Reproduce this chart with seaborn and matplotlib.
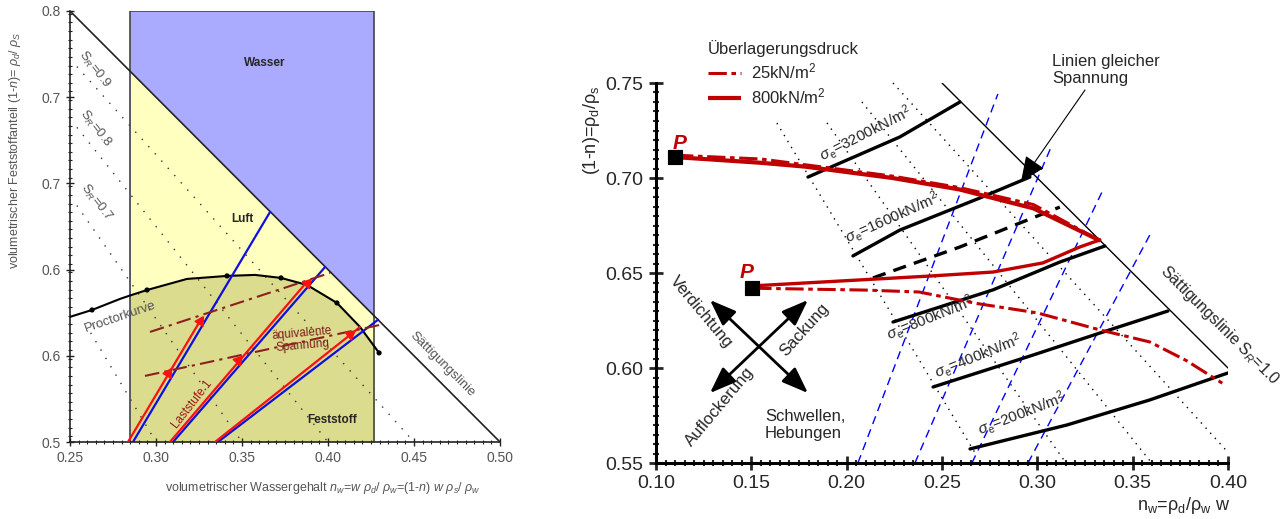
import matplotlib
matplotlib.use("Agg")

import matplotlib.pyplot as plt
import numpy as np
import seaborn as sns
from matplotlib.ticker import MultipleLocator

# ---------------- left panel data ----------------
box_x = [0.285, 0.4267]
sat_l_x = [0.25, 0.50]
sat_l_y = [0.80, 0.50]

proctor_x = [0.25, 0.2628, 0.2791, 0.285, 0.2948, 0.3180, 0.3413, 0.3576, 0.3727,
             0.3878, 0.4052, 0.4186, 0.4267, 0.4297]
proctor_y = [0.5871, 0.5919, 0.5996, 0.602, 0.6058, 0.6135, 0.6156, 0.6163, 0.6142,
             0.6093, 0.5968, 0.5801, 0.5669, 0.5620]
proctor_dot_x = [0.2628, 0.2948, 0.3413, 0.3727, 0.4052, 0.4297]
proctor_dot_y = [0.5919, 0.6058, 0.6156, 0.6142, 0.5968, 0.5620]

sr_l_labels = ["0.9", "0.8", "0.7", None]
sr_l_x0 = [0.254, 0.254, 0.254, 0.262]
sr_l_y0 = [0.7613, 0.719, 0.6646, 0.576]
sr_l_x1 = [0.45, 0.40, 0.35, 0.30]
sr_l_y1 = [0.50, 0.50, 0.50, 0.50]
sr_l_lab_x = [0.264, 0.2645, 0.2651]
sr_l_lab_y = [0.7596, 0.7179, 0.6664]

blue_x0 = [0.2866, 0.3099, 0.3360]
blue_y0 = [0.50, 0.50, 0.50]
blue_x1 = [0.3663, 0.3983, 0.4291]
blue_y1 = [0.6601, 0.6218, 0.5851]
red_x0 = [0.2837, 0.3081, 0.3343]
red_y0 = [0.50, 0.50, 0.50]
red_x1 = [0.3267, 0.3872, 0.4186]
red_y1 = [0.5864, 0.6107, 0.5800]

dd_x0 = [0.2965, 0.2936]
dd_y0 = [0.5766, 0.5460]
dd_x1 = [0.4012, 0.4302]
dd_y1 = [0.6177, 0.5815]

arrow_l_x = [0.3070, 0.3256, 0.3477, 0.3878, 0.4128]
arrow_l_y = [0.5481, 0.5843, 0.5571, 0.6107, 0.5752]
arrow_l_rot = [-31, -31, -41, -41, -52]

l_xticks = [0.25, 0.30, 0.35, 0.40, 0.45, 0.50]
l_xlabels = ["0.25", "0.30", "0.35", "0.40", "0.45", "0.50"]
l_yticks = [0.50, 0.56, 0.62, 0.68, 0.74, 0.80]
l_ylabels = ["0.5", "0.6", "0.6", "0.7", "0.7", "0.8"]

# ---------------- right panel data ----------------
sat_r_x = [0.25, 0.40]
sat_r_y = [0.75, 0.60]

up_solid_x = [0.110, 0.155, 0.178, 0.224, 0.259, 0.298, 0.333]
up_solid_y = [0.711, 0.708, 0.706, 0.700, 0.694, 0.684, 0.667]
up_dd_x = [0.110, 0.155, 0.178, 0.224, 0.259, 0.298, 0.333]
up_dd_y = [0.712, 0.710, 0.707, 0.701, 0.695, 0.686, 0.667]
lo_solid_x = [0.1503, 0.2437, 0.2767, 0.3029, 0.3223, 0.3328]
lo_solid_y = [0.6432, 0.6484, 0.6505, 0.6553, 0.6637, 0.6674]
lo_dd_x = [0.151, 0.210, 0.238, 0.268, 0.300, 0.333, 0.359, 0.378, 0.397]
lo_dd_y = [0.642, 0.641, 0.640, 0.634, 0.629, 0.620, 0.6137, 0.604, 0.592]

stress_labels = ["3200", "1600", "800", "400", "200"]
stress_x = [[0.1797, 0.2279, 0.2594],
            [0.2033, 0.2279, 0.2699, 0.2961],
            [0.2243, 0.2767, 0.3119, 0.3354],
            [0.2453, 0.2977, 0.3328, 0.3685],
            [0.2647, 0.3155, 0.3590, 0.4000]]
stress_y = [[0.7005, 0.7216, 0.7400],
            [0.6590, 0.6726, 0.6895, 0.7005],
            [0.6242, 0.6411, 0.6558, 0.6642],
            [0.5900, 0.6068, 0.6184, 0.6300],
            [0.5574, 0.5700, 0.5832, 0.5974]]
stress_lab_x = [0.2100, 0.2240, 0.2437, 0.2690, 0.2920]
stress_lab_y = [0.7235, 0.6790, 0.6263, 0.6065, 0.5760]
stress_lab_rot = [27, 24, 22, 22, 21]

dashed_x = [0.2138, 0.2594, 0.3118]
dashed_y = [0.6474, 0.6637, 0.6847]

sr_r_x0 = [0.1634, 0.1897, 0.2080, 0.2243]
sr_r_y0 = [0.7289, 0.7290, 0.7400, 0.7500]
sr_r_x1 = [0.2683, 0.3150, 0.3600, 0.4000]
sr_r_y1 = [0.5537, 0.5500, 0.5500, 0.5556]

w_x0 = [0.2059, 0.2358, 0.2657, 0.2951]
w_y0 = [0.55, 0.55, 0.55, 0.55]
w_x1 = [0.2793, 0.3077, 0.3349, 0.3601]
w_y1 = [0.7442, 0.7174, 0.6947, 0.6721]

p_x = [0.110, 0.1503]
p_y = [0.711, 0.6421]
p_lab_x = [0.1126, 0.1477]
p_lab_y = [0.7184, 0.6505]

cross_start = [(0.1283, 0.5868), (0.1797, 0.5868)]
cross_end = [(0.1797, 0.6358), (0.1283, 0.6358)]

r_xticks = [0.10, 0.15, 0.20, 0.25, 0.30, 0.35, 0.40]
r_xlabels = ["0.10", "0.15", "0.20", "0.25", "0.30", "0.35", "0.40"]
r_yticks = [0.55, 0.60, 0.65, 0.70, 0.75]
r_ylabels = ["0.55", "0.60", "0.65", "0.70", "0.75"]

RED = "#c00000"

sns.set_style("white")
plt.rcParams["font.family"] = ["Liberation Sans", "DejaVu Sans"]
plt.rcParams["mathtext.fontset"] = "custom"
plt.rcParams["mathtext.rm"] = "Liberation Sans"
plt.rcParams["mathtext.it"] = "Liberation Sans:italic"
plt.rcParams["mathtext.bf"] = "Liberation Sans:bold"

fig = plt.figure(figsize=(12.83, 5.19), dpi=100)
ax1 = fig.add_axes([70 / 1283, 1 - 442 / 519, 430 / 1283, 431 / 519])
ax2 = fig.add_axes([656 / 1283, 1 - 463 / 519, 572 / 1283, 380 / 519])

# ================= left panel =================
ax1.set_xlim(0.25, 0.50)
ax1.set_ylim(0.50, 0.80)
ax1.fill_between(box_x, 0.5, 0.8, color="#aaaaff", lw=0, zorder=0)
sat_at_box = np.interp(box_x, sat_l_x, sat_l_y)
ax1.fill_between(box_x, 0.5, sat_at_box, color="#ffffc0", lw=0, zorder=0)
px = np.array(proctor_x)
py = np.array(proctor_y)
inbox = (px >= box_x[0]) & (px <= box_x[1])
ax1.fill_between(px[inbox], 0.5, py[inbox], color="#dcdc8e", lw=0, zorder=0)
ax1.plot([box_x[0], box_x[0], box_x[1], box_x[1]], [0.5, 0.8, 0.8, 0.5],
         color="#444444", lw=1.2, zorder=2)

for i in range(len(sr_l_x0)):
    ax1.plot([sr_l_x0[i], sr_l_x1[i]], [sr_l_y0[i], sr_l_y1[i]], color="#333333",
             lw=1.0, ls=(0, (1, 6)), zorder=1)
for i in range(3):
    ax1.text(sr_l_lab_x[i], sr_l_lab_y[i], "S$_R$=" + sr_l_labels[i], fontsize=9.5,
             color="#555555", rotation=-52, ha="center", va="center")

ax1.plot(sat_l_x, sat_l_y, color="#222222", lw=1.2, zorder=3)
sns.lineplot(x=proctor_x, y=proctor_y, sort=False, color="black", lw=1.5, ax=ax1, zorder=3)
sns.scatterplot(x=proctor_dot_x, y=proctor_dot_y, color="black", s=14, ax=ax1, zorder=4,
                edgecolor="none")

for i in range(3):
    ax1.plot([blue_x0[i], blue_x1[i]], [blue_y0[i], blue_y1[i]], color="#1010dd", lw=1.6, zorder=4)
    ax1.plot([red_x0[i], red_x1[i]], [red_y0[i], red_y1[i]], color="#ff1010", lw=1.6, zorder=4)
for i in range(2):
    ax1.plot([dd_x0[i], dd_x1[i]], [dd_y0[i], dd_y1[i]], color="#8b2020", lw=1.5,
             ls=(0, (7, 2.5, 1.5, 2.5)), zorder=5)
for i in range(len(arrow_l_x)):
    ax1.plot(arrow_l_x[i], arrow_l_y[i], marker=(3, 0, arrow_l_rot[i]), ms=8,
             color="#ff1010", zorder=6)

ax1.text(0.3634, 0.7638, "Wasser", fontsize=8.5, fontweight="bold", ha="center", va="center")
ax1.text(0.350, 0.6553, "Luft", fontsize=8.5, fontweight="bold", ha="center", va="center")
ax1.text(0.4023, 0.5154, "Feststoff", fontsize=8.5, fontweight="bold", ha="center", va="center")
ax1.text(0.2791, 0.5871, "Proctorkurve", fontsize=9.5, color="#555555", rotation=19,
         ha="center", va="center")
ax1.text(0.4663, 0.5543, "Sättigungslinie", fontsize=9.5, color="#555555", rotation=-45,
         ha="center", va="center")
ax1.text(0.3849, 0.5711, "äquivalente\nSpannung", fontsize=8.5, color="#7b1c1c", rotation=5,
         ha="center", va="center", linespacing=1.0)
ax1.text(0.3209, 0.5258, "Laststufe 1", fontsize=8.5, color="#9b1b1b", rotation=52,
         ha="center", va="center")

ax1.set_xticks(l_xticks, l_xlabels)
ax1.set_yticks(l_yticks, l_ylabels)
ax1.xaxis.set_minor_locator(MultipleLocator(0.005))
ax1.yaxis.set_minor_locator(MultipleLocator(0.006))
ax1.tick_params(which="major", direction="inout", length=6, width=1, colors="#222222",
                labelcolor="#555555", labelsize=10, bottom=True, left=True)
ax1.tick_params(which="minor", direction="inout", length=3, width=0.8, colors="#222222",
                bottom=True, left=True)
for s in ["top", "right"]:
    ax1.spines[s].set_visible(False)
for s in ["left", "bottom"]:
    ax1.spines[s].set_color("#222222")
    ax1.spines[s].set_linewidth(1.2)

fig.text(15 / 1283, 1 - 150 / 519,
         r"volumetrischer Feststoffanteil $(1$-$n)$= $\rho_d$/ $\rho_S$",
         rotation=90, fontsize=9, color="#555555", ha="center", va="center")
fig.text(323 / 1283, 1 - 488 / 519,
         r"volumetrischer Wassergehalt $n_w$=$w$ $\rho_d$/ $\rho_w$=$(1$-$n)$ $w$ $\rho_s$/ $\rho_w$",
         fontsize=9, color="#555555", ha="center", va="center")

# ================= right panel =================
ax2.set_xlim(0.10, 0.40)
ax2.set_ylim(0.55, 0.75)

for i in range(len(sr_r_x0)):
    ax2.plot([sr_r_x0[i], sr_r_x1[i]], [sr_r_y0[i], sr_r_y1[i]], color="black", lw=1.0,
             ls=(0, (1, 4)), zorder=1, clip_on=False)
for i in range(len(w_x0)):
    ax2.plot([w_x0[i], w_x1[i]], [w_y0[i], w_y1[i]], color="#0000ff", lw=1.0,
             ls=(0, (6, 4)), zorder=1)
ax2.plot(sat_r_x, sat_r_y, color="black", lw=1.0, zorder=2)

for i in range(len(stress_x)):
    sns.lineplot(x=stress_x[i], y=stress_y[i], sort=False, color="black", lw=2.4, ax=ax2,
                 zorder=3)
    ax2.text(stress_lab_x[i], stress_lab_y[i],
             r"$\sigma_\mathrm{e}$=" + stress_labels[i] + "kN/m$^2$", fontsize=11,
             rotation=stress_lab_rot[i], ha="center", va="center", rotation_mode="anchor",
             zorder=4)
ax2.plot(dashed_x, dashed_y, color="black", lw=2.4, ls=(0, (4, 2.5)), zorder=3)

h_solid, = ax2.plot(up_solid_x, up_solid_y, color=RED, lw=3.0, zorder=5,
                    solid_capstyle="butt")
ax2.plot(lo_solid_x, lo_solid_y, color=RED, lw=2.4, zorder=5)
h_dd, = ax2.plot(up_dd_x, up_dd_y, color=RED, lw=2.2, ls=(0, (6, 1.5, 1.5, 1.5)), zorder=6)
ax2.plot(lo_dd_x, lo_dd_y, color=RED, lw=2.2, ls=(0, (6, 1.5, 1.5, 1.5)), zorder=6)

sns.scatterplot(x=p_x, y=p_y, marker="s", s=110, color="black", edgecolor="black", ax=ax2,
                zorder=7)
for i in range(2):
    ax2.text(p_lab_x[i], p_lab_y[i], "P", fontsize=15, color=RED, fontweight="bold",
             fontstyle="italic", ha="center", va="center")

for (x0, y0), (x1, y1) in zip(cross_start, cross_end):
    ax2.annotate("", xy=(x1, y1), xytext=(x0, y0),
                 arrowprops=dict(arrowstyle="<|-|>,head_length=0.8,head_width=0.3",
                                 lw=2, color="black", mutation_scale=20,
                                 shrinkA=0, shrinkB=0))
ax2.text(0.1236, 0.6295, "Verdichtung", fontsize=12, rotation=-50, ha="center", va="center")
ax2.text(0.1781, 0.6200, "Sackung", fontsize=12, rotation=48, ha="center", va="center")
ax2.text(0.1336, 0.5795, "Auflockerung", fontsize=12, rotation=50, ha="center", va="center")
ax2.text(0.1572, 0.5700, "Schwellen,\nHebungen", fontsize=12, ha="left", va="center",
         linespacing=1.15)
ax2.text(0.3958, 0.6226, "Sättigungslinie S$_R$=1.0", fontsize=11.5, rotation=-45,
         ha="center", va="center")
ax2.text(0.3077, 0.7568, "Linien gleicher\nSpannung", fontsize=12, ha="left", va="center",
         linespacing=1.15)
ax2.annotate("", xy=(0.2914, 0.6979), xytext=(0.3250, 0.7463),
             arrowprops=dict(arrowstyle="-|>,head_length=0.8,head_width=0.35", lw=0.8,
                             color="black", mutation_scale=20, shrinkA=0, shrinkB=0),
             annotation_clip=False)

leg = ax2.legend([h_dd, h_solid], ["25kN/m$^2$", "800kN/m$^2$"], title="Überlagerungsdruck",
                 loc="upper left", bbox_to_anchor=(708 / 1283, 1 - 40 / 519),
                 bbox_transform=fig.transFigure, frameon=False, fontsize=12,
                 title_fontsize=12, handlelength=2.0, handletextpad=0.6,
                 labelspacing=0.3, borderpad=0, borderaxespad=0, alignment="left")

ax2.set_xticks(r_xticks, r_xlabels)
ax2.set_yticks(r_yticks, r_ylabels)
ax2.xaxis.set_minor_locator(MultipleLocator(0.005))
ax2.yaxis.set_minor_locator(MultipleLocator(0.005))
ax2.tick_params(which="major", direction="inout", length=10, width=2, labelsize=14,
                bottom=True, left=True, pad=4)
ax2.tick_params(which="minor", direction="inout", length=5, width=1.5, bottom=True, left=True)
for s in ["top", "right"]:
    ax2.spines[s].set_visible(False)
for s in ["left", "bottom"]:
    ax2.spines[s].set_color("black")
    ax2.spines[s].set_linewidth(2.2)

fig.text(591 / 1283, 1 - 130 / 519, "(1-n)=ρ$_\\mathrm{d}$/ρ$_\\mathrm{s}$", rotation=90,
         fontsize=13, ha="center", va="center")
fig.text(1230 / 1283, 1 - 505 / 519, "n$_\\mathrm{w}$=ρ$_\\mathrm{d}$/ρ$_\\mathrm{w}$ w",
         fontsize=13, ha="right", va="center")

fig.savefig("out.png", dpi=100)
